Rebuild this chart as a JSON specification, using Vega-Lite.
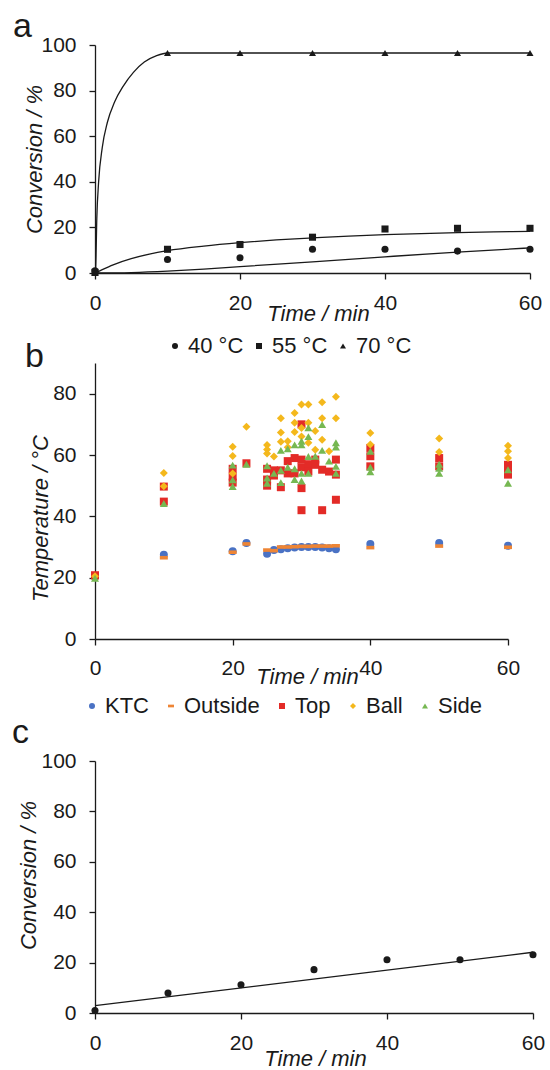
{
  "$schema": "https://vega.github.io/schema/vega-lite/v6.json",
  "background": "white",
  "padding": {"left": 12, "top": 10, "right": 0, "bottom": 0},
  "spacing": -17,
  "config": {
    "font": "Liberation Sans",
    "view": {"stroke": null},
    "axis": {
      "grid": false,
      "domainColor": "#1a1a1a",
      "tickColor": "#1a1a1a",
      "labelColor": "#1a1a1a",
      "titleColor": "#1a1a1a",
      "labelFont": "Liberation Sans",
      "titleFont": "Liberation Sans",
      "labelFontSize": 21,
      "titleFontSize": 22,
      "titleFontWeight": "normal",
      "titleFontStyle": "italic",
      "tickSize": 6,
      "domainWidth": 1.3,
      "tickWidth": 1.3,
      "labelFlush": false
    },
    "legend": {
      "labelFont": "Liberation Sans",
      "labelFontSize": 22,
      "labelColor": "#1a1a1a",
      "direction": "horizontal",
      "symbolSize": 40,
      "symbolStrokeWidth": 0,
      "labelOffset": 2
    },
    "title": {
      "font": "Liberation Sans",
      "fontSize": 34,
      "fontWeight": "normal",
      "anchor": "start",
      "frame": "group",
      "color": "#1a1a1a",
      "baseline": "alphabetic"
    }
  },
  "resolve": {
    "scale": {"x": "independent", "y": "independent", "color": "independent", "shape": "independent"},
    "legend": {"color": "independent", "shape": "independent"}
  },
  "datasets": {
    "a_pts": [
      {"series": "40 °C", "t": 0, "y": 1},
      {"series": "40 °C", "t": 10, "y": 5.9},
      {"series": "40 °C", "t": 20, "y": 6.7},
      {"series": "40 °C", "t": 30, "y": 10.4},
      {"series": "40 °C", "t": 40, "y": 10.4},
      {"series": "40 °C", "t": 50, "y": 9.6},
      {"series": "40 °C", "t": 60, "y": 10.4},
      {"series": "55 °C", "t": 0, "y": 0.3},
      {"series": "55 °C", "t": 10, "y": 10.4},
      {"series": "55 °C", "t": 20, "y": 12.5},
      {"series": "55 °C", "t": 30, "y": 15.7},
      {"series": "55 °C", "t": 40, "y": 19.3},
      {"series": "55 °C", "t": 50, "y": 19.6},
      {"series": "55 °C", "t": 60, "y": 19.6},
      {"series": "70 °C", "t": 0, "y": 0},
      {"series": "70 °C", "t": 10, "y": 96.5},
      {"series": "70 °C", "t": 20, "y": 96.5},
      {"series": "70 °C", "t": 30, "y": 96.5},
      {"series": "70 °C", "t": 40, "y": 96.5},
      {"series": "70 °C", "t": 50, "y": 96.5},
      {"series": "70 °C", "t": 60, "y": 96.5}
    ],
    "a_fit": [
      {"series": "70 °C", "t": 0, "y": 0},
      {"series": "70 °C", "t": 0.1, "y": 3},
      {"series": "70 °C", "t": 0.25, "y": 24},
      {"series": "70 °C", "t": 0.5, "y": 40},
      {"series": "70 °C", "t": 1, "y": 55},
      {"series": "70 °C", "t": 1.7, "y": 66},
      {"series": "70 °C", "t": 2.7, "y": 75},
      {"series": "70 °C", "t": 3.9, "y": 82},
      {"series": "70 °C", "t": 5.3, "y": 88},
      {"series": "70 °C", "t": 6.8, "y": 92.5},
      {"series": "70 °C", "t": 8.5, "y": 95.3},
      {"series": "70 °C", "t": 10, "y": 96.5},
      {"series": "70 °C", "t": 60, "y": 96.5},
      {"series": "55 °C", "t": 0, "y": 0},
      {"series": "55 °C", "t": 1, "y": 1.5},
      {"series": "55 °C", "t": 2.5, "y": 3.6},
      {"series": "55 °C", "t": 5, "y": 6.3},
      {"series": "55 °C", "t": 7.5, "y": 8.3},
      {"series": "55 °C", "t": 10, "y": 9.8},
      {"series": "55 °C", "t": 15, "y": 11.8},
      {"series": "55 °C", "t": 20, "y": 13.3},
      {"series": "55 °C", "t": 25, "y": 14.5},
      {"series": "55 °C", "t": 30, "y": 15.4},
      {"series": "55 °C", "t": 35, "y": 16.2},
      {"series": "55 °C", "t": 40, "y": 16.8},
      {"series": "55 °C", "t": 45, "y": 17.3},
      {"series": "55 °C", "t": 50, "y": 17.7},
      {"series": "55 °C", "t": 55, "y": 18},
      {"series": "55 °C", "t": 60, "y": 18.3},
      {"series": "40 °C", "t": 0, "y": 0},
      {"series": "40 °C", "t": 5, "y": 0.2},
      {"series": "40 °C", "t": 10, "y": 0.8},
      {"series": "40 °C", "t": 15, "y": 1.7},
      {"series": "40 °C", "t": 20, "y": 2.8},
      {"series": "40 °C", "t": 30, "y": 4.9},
      {"series": "40 °C", "t": 40, "y": 7.1},
      {"series": "40 °C", "t": 50, "y": 9.2},
      {"series": "40 °C", "t": 60, "y": 11}
    ],
    "b_pts": [
      {"t": 0, "s": "KTC", "T": 20.3}, {"t": 10, "s": "KTC", "T": 27.5}, {"t": 20, "s": "KTC", "T": 28.6}, {"t": 22, "s": "KTC", "T": 31.3}, {"t": 25, "s": "KTC", "T": 27.8}, {"t": 26, "s": "KTC", "T": 29}, {"t": 27, "s": "KTC", "T": 29.3}, {"t": 28, "s": "KTC", "T": 29.6}, {"t": 29, "s": "KTC", "T": 29.8}, {"t": 30, "s": "KTC", "T": 30}, {"t": 31, "s": "KTC", "T": 30}, {"t": 32, "s": "KTC", "T": 30}, {"t": 33, "s": "KTC", "T": 29.8}, {"t": 34, "s": "KTC", "T": 29.6}, {"t": 35, "s": "KTC", "T": 29.3}, {"t": 40, "s": "KTC", "T": 31}, {"t": 50, "s": "KTC", "T": 31.3}, {"t": 60, "s": "KTC", "T": 30.4},
      {"t": 0, "s": "Outside", "T": 20}, {"t": 10, "s": "Outside", "T": 26.5}, {"t": 20, "s": "Outside", "T": 28.3}, {"t": 22, "s": "Outside", "T": 31}, {"t": 25, "s": "Outside", "T": 29}, {"t": 26, "s": "Outside", "T": 28.8}, {"t": 27, "s": "Outside", "T": 30}, {"t": 28, "s": "Outside", "T": 30}, {"t": 29, "s": "Outside", "T": 30.1}, {"t": 30, "s": "Outside", "T": 30.2}, {"t": 31, "s": "Outside", "T": 30.2}, {"t": 32, "s": "Outside", "T": 30.3}, {"t": 33, "s": "Outside", "T": 30.3}, {"t": 34, "s": "Outside", "T": 30.3}, {"t": 35, "s": "Outside", "T": 30.4}, {"t": 40, "s": "Outside", "T": 29.8}, {"t": 50, "s": "Outside", "T": 30.3}, {"t": 60, "s": "Outside", "T": 29.9},
      {"t": 0, "s": "Top", "T": 20.8}, {"t": 10, "s": "Top", "T": 49.7}, {"t": 10, "s": "Top", "T": 44.8}, {"t": 20, "s": "Top", "T": 55.5}, {"t": 20, "s": "Top", "T": 53}, {"t": 20, "s": "Top", "T": 51}, {"t": 22, "s": "Top", "T": 57.3}, {"t": 25, "s": "Top", "T": 55.5}, {"t": 25, "s": "Top", "T": 52}, {"t": 25, "s": "Top", "T": 50}, {"t": 26, "s": "Top", "T": 55}, {"t": 26, "s": "Top", "T": 53.3}, {"t": 27, "s": "Top", "T": 55}, {"t": 27, "s": "Top", "T": 49.5}, {"t": 28, "s": "Top", "T": 58}, {"t": 28, "s": "Top", "T": 54}, {"t": 29, "s": "Top", "T": 59}, {"t": 29, "s": "Top", "T": 54}, {"t": 30, "s": "Top", "T": 70}, {"t": 30, "s": "Top", "T": 58.5}, {"t": 30, "s": "Top", "T": 56}, {"t": 30, "s": "Top", "T": 49.2}, {"t": 30, "s": "Top", "T": 42}, {"t": 31, "s": "Top", "T": 57}, {"t": 31, "s": "Top", "T": 54.6}, {"t": 32, "s": "Top", "T": 58.5}, {"t": 32, "s": "Top", "T": 56.8}, {"t": 33, "s": "Top", "T": 55.2}, {"t": 33, "s": "Top", "T": 42}, {"t": 34, "s": "Top", "T": 54.6}, {"t": 35, "s": "Top", "T": 58.5}, {"t": 35, "s": "Top", "T": 53.6}, {"t": 35, "s": "Top", "T": 45.4}, {"t": 40, "s": "Top", "T": 62.3}, {"t": 40, "s": "Top", "T": 59.6}, {"t": 40, "s": "Top", "T": 56.3}, {"t": 50, "s": "Top", "T": 59}, {"t": 50, "s": "Top", "T": 56.3}, {"t": 60, "s": "Top", "T": 56.8}, {"t": 60, "s": "Top", "T": 55.2}, {"t": 60, "s": "Top", "T": 53.6},
      {"t": 0, "s": "Ball", "T": 20.5}, {"t": 10, "s": "Ball", "T": 54.1}, {"t": 10, "s": "Ball", "T": 49.8}, {"t": 20, "s": "Ball", "T": 62.7}, {"t": 20, "s": "Ball", "T": 59.7}, {"t": 20, "s": "Ball", "T": 54}, {"t": 22, "s": "Ball", "T": 69.2}, {"t": 25, "s": "Ball", "T": 63.3}, {"t": 25, "s": "Ball", "T": 61.8}, {"t": 25, "s": "Ball", "T": 60.5}, {"t": 26, "s": "Ball", "T": 59.5}, {"t": 27, "s": "Ball", "T": 72}, {"t": 27, "s": "Ball", "T": 67.3}, {"t": 27, "s": "Ball", "T": 64.3}, {"t": 28, "s": "Ball", "T": 64.5}, {"t": 28, "s": "Ball", "T": 62.5}, {"t": 29, "s": "Ball", "T": 73.7}, {"t": 29, "s": "Ball", "T": 70.5}, {"t": 29, "s": "Ball", "T": 67.5}, {"t": 30, "s": "Ball", "T": 76.5}, {"t": 30, "s": "Ball", "T": 68.8}, {"t": 30, "s": "Ball", "T": 66}, {"t": 31, "s": "Ball", "T": 76.5}, {"t": 31, "s": "Ball", "T": 70.5}, {"t": 31, "s": "Ball", "T": 64}, {"t": 32, "s": "Ball", "T": 67.8}, {"t": 32, "s": "Ball", "T": 61.7}, {"t": 33, "s": "Ball", "T": 77.2}, {"t": 33, "s": "Ball", "T": 72}, {"t": 33, "s": "Ball", "T": 65}, {"t": 34, "s": "Ball", "T": 61.2}, {"t": 35, "s": "Ball", "T": 79}, {"t": 35, "s": "Ball", "T": 72}, {"t": 40, "s": "Ball", "T": 67.2}, {"t": 40, "s": "Ball", "T": 63.4}, {"t": 50, "s": "Ball", "T": 65.4}, {"t": 50, "s": "Ball", "T": 61}, {"t": 60, "s": "Ball", "T": 63}, {"t": 60, "s": "Ball", "T": 61.2}, {"t": 60, "s": "Ball", "T": 59},
      {"t": 0, "s": "Side", "T": 19.8}, {"t": 10, "s": "Side", "T": 44.2}, {"t": 20, "s": "Side", "T": 56.7}, {"t": 20, "s": "Side", "T": 51.9}, {"t": 20, "s": "Side", "T": 49.7}, {"t": 22, "s": "Side", "T": 57}, {"t": 25, "s": "Side", "T": 56.5}, {"t": 25, "s": "Side", "T": 52.5}, {"t": 25, "s": "Side", "T": 50.8}, {"t": 26, "s": "Side", "T": 54}, {"t": 27, "s": "Side", "T": 61.5}, {"t": 27, "s": "Side", "T": 55}, {"t": 27, "s": "Side", "T": 51}, {"t": 28, "s": "Side", "T": 62}, {"t": 28, "s": "Side", "T": 56}, {"t": 29, "s": "Side", "T": 63.3}, {"t": 29, "s": "Side", "T": 55.5}, {"t": 29, "s": "Side", "T": 52}, {"t": 30, "s": "Side", "T": 64.5}, {"t": 30, "s": "Side", "T": 63.3}, {"t": 30, "s": "Side", "T": 54}, {"t": 30, "s": "Side", "T": 51.5}, {"t": 31, "s": "Side", "T": 68.9}, {"t": 31, "s": "Side", "T": 66}, {"t": 31, "s": "Side", "T": 59.5}, {"t": 31, "s": "Side", "T": 54}, {"t": 32, "s": "Side", "T": 59.6}, {"t": 33, "s": "Side", "T": 69.9}, {"t": 33, "s": "Side", "T": 61.5}, {"t": 34, "s": "Side", "T": 58}, {"t": 35, "s": "Side", "T": 64}, {"t": 35, "s": "Side", "T": 62.6}, {"t": 35, "s": "Side", "T": 56.3}, {"t": 35, "s": "Side", "T": 54}, {"t": 40, "s": "Side", "T": 61.2}, {"t": 40, "s": "Side", "T": 56}, {"t": 40, "s": "Side", "T": 54.5}, {"t": 50, "s": "Side", "T": 57}, {"t": 50, "s": "Side", "T": 55.7}, {"t": 50, "s": "Side", "T": 54}, {"t": 60, "s": "Side", "T": 55.2}, {"t": 60, "s": "Side", "T": 50.8}
    ],
    "c_pts": [
      {"t": 0, "y": 1},
      {"t": 10, "y": 7.9},
      {"t": 20, "y": 11.2},
      {"t": 30, "y": 17.2},
      {"t": 40, "y": 21.1},
      {"t": 50, "y": 21.1},
      {"t": 60, "y": 23.1}
    ],
    "c_fit": [
      {"t": 0, "y": 2.9},
      {"t": 60, "y": 24.1}
    ]
  },
  "vconcat": [
    {
      "width": 435,
      "height": 228,
      "title": {"text": "a", "dx": -82, "offset": -10},
      "layer": [
        {
          "data": {"name": "a_fit"},
          "mark": {"type": "line", "color": "#1a1a1a", "strokeWidth": 1.3, "interpolate": "monotone"},
          "encoding": {
            "x": {"field": "t", "type": "quantitative", "scale": {"domain": [0, 60], "nice": false},
              "axis": {"values": [0, 20, 40, 60], "title": "Time / min", "labelPadding": 13, "titleY": 47, "titleX": 223, "titleBaseline": "alphabetic"}},
            "y": {"field": "y", "type": "quantitative", "scale": {"domain": [0, 100], "nice": false},
              "axis": {"values": [0, 20, 40, 60, 80, 100], "title": "Conversion / %", "labelPadding": 13, "titleX": -54, "titleBaseline": "alphabetic"}},
            "detail": {"field": "series", "type": "nominal"}
          }
        },
        {
          "data": {"name": "a_pts"},
          "mark": {"type": "point", "filled": true, "opacity": 1, "size": 50, "color": "#1a1a1a"},
          "encoding": {
            "x": {"field": "t", "type": "quantitative"},
            "y": {"field": "y", "type": "quantitative"},
            "shape": {"field": "series", "type": "nominal",
              "scale": {"domain": ["40 °C", "55 °C", "70 °C"], "range": ["circle", "square", "triangle-up"]},
              "legend": {"title": null, "orient": "none", "legendX": 69, "legendY": 290, "columnPadding": 4, "symbolSize": 36, "symbolFillColor": "#1a1a1a", "padding": 0}}
          }
        }
      ]
    },
    {
      "width": 413,
      "height": 276,
      "title": {"text": "b", "dx": -70, "offset": -11},
      "data": {"name": "b_pts"},
      "mark": {"type": "point", "filled": true, "opacity": 1, "size": 64},
      "encoding": {
        "x": {"field": "t", "type": "quantitative", "scale": {"domain": [0, 60], "nice": false},
          "axis": {"values": [0, 20, 40, 60], "title": "Time / min", "labelPadding": 12, "titleY": 44, "titleX": 212, "titleBaseline": "alphabetic"}},
        "y": {"field": "T", "type": "quantitative", "scale": {"domain": [0, 90], "nice": false},
          "axis": {"values": [0, 20, 40, 60, 80], "title": "Temperature / °C", "labelPadding": 13, "titleX": -48, "titleY": 155, "titleBaseline": "alphabetic"}},
        "color": {"field": "s", "type": "nominal",
          "scale": {"domain": ["KTC", "Outside", "Top", "Ball", "Side"], "range": ["#4A72C4", "#EE8535", "#E32B27", "#F4B81C", "#76B852"]},
          "legend": {"title": null, "orient": "none", "legendX": -30, "legendY": 316, "padding": 16, "columnPadding": 11, "symbolSize": 36}},
        "shape": {"field": "s", "type": "nominal",
          "scale": {"domain": ["KTC", "Outside", "Top", "Ball", "Side"], "range": ["circle", "M-1,-0.45L1,-0.45L1,0.45L-1,0.45Z", "square", "diamond", "triangle-up"]}}
      }
    },
    {
      "width": 438,
      "height": 252,
      "title": {"text": "c", "dx": -83, "offset": 0},
      "layer": [
        {
          "data": {"name": "c_fit"},
          "mark": {"type": "line", "color": "#1a1a1a", "strokeWidth": 1.3},
          "encoding": {
            "x": {"field": "t", "type": "quantitative", "scale": {"domain": [0, 60], "nice": false},
              "axis": {"values": [0, 20, 40, 60], "title": "Time / min", "labelPadding": 13, "titleY": 52, "titleX": 220, "titleBaseline": "alphabetic"}},
            "y": {"field": "y", "type": "quantitative", "scale": {"domain": [0, 100], "nice": false},
              "axis": {"values": [0, 20, 40, 60, 80, 100], "title": "Conversion / %", "labelPadding": 13, "titleX": -60, "titleY": 114, "titleBaseline": "alphabetic"}}
          }
        },
        {
          "data": {"name": "c_pts"},
          "mark": {"type": "point", "filled": true, "opacity": 1, "size": 50, "color": "#1a1a1a"},
          "encoding": {
            "x": {"field": "t", "type": "quantitative"},
            "y": {"field": "y", "type": "quantitative"}
          }
        }
      ]
    }
  ]
}
